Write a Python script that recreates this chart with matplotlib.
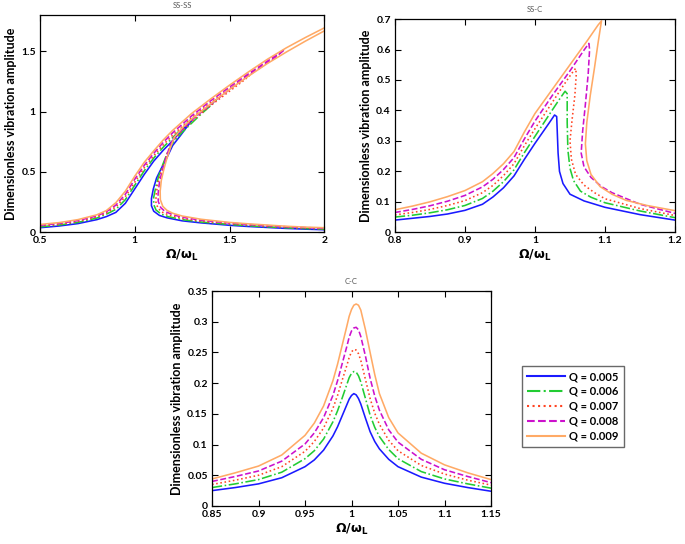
import matplotlib
matplotlib.use("Agg")
import matplotlib.pyplot as plt
from matplotlib.lines import Line2D

plt.rcParams['font.family'] = ['Lato', 'DejaVu Sans']

# ---------------- data ----------------
labels = ["Q = 0.005", "Q = 0.006", "Q = 0.007", "Q = 0.008", "Q = 0.009"]
colors = ["#1a1aff", "#22cc33", "#ff4422", "#cc11cc", "#ffaa66"]
styles = ["-", "-.", ":", "--", "-"]

# SS-SS (paths: lower-left -> upper branch -> middle branch -> lower-right)
ss_x = [
    [0.5, 0.6, 0.7, 0.8, 0.85, 0.9, 0.95, 1.0, 1.05, 1.1, 1.15, 1.2, 1.25, 1.29,
     1.3, 1.29, 1.24, 1.2, 1.17, 1.14, 1.115, 1.098, 1.088, 1.088,
     1.1, 1.13, 1.17, 1.25, 1.35, 1.5, 1.6, 1.7, 1.8, 1.9, 2.0],
    [0.5, 0.6, 0.7, 0.8, 0.85, 0.9, 0.95, 1.0, 1.05, 1.1, 1.15, 1.2, 1.25, 1.3, 1.35, 1.4, 1.43,
     1.40, 1.35, 1.3, 1.25, 1.2, 1.17, 1.145, 1.125, 1.11, 1.1, 1.1,
     1.112, 1.14, 1.18, 1.25, 1.35, 1.5, 1.6, 1.7, 1.8, 1.9, 2.0],
    [0.5, 0.6, 0.7, 0.8, 0.85, 0.9, 0.95, 1.0, 1.05, 1.1, 1.15, 1.2, 1.3, 1.4, 1.5, 1.6, 1.62,
     1.58, 1.5, 1.4, 1.3, 1.25, 1.2, 1.175, 1.155, 1.135, 1.12, 1.112, 1.112,
     1.125, 1.15, 1.19, 1.25, 1.35, 1.5, 1.6, 1.7, 1.8, 1.9, 2.0],
    [0.5, 0.6, 0.7, 0.8, 0.85, 0.9, 0.95, 1.0, 1.05, 1.1, 1.15, 1.2, 1.3, 1.4, 1.5, 1.6, 1.7, 1.79,
     1.75, 1.7, 1.6, 1.5, 1.4, 1.3, 1.25, 1.2, 1.18, 1.16, 1.143, 1.13, 1.123, 1.124,
     1.137, 1.16, 1.2, 1.25, 1.35, 1.5, 1.6, 1.7, 1.8, 1.9, 2.0],
    [0.5, 0.6, 0.7, 0.8, 0.85, 0.9, 0.95, 1.0, 1.05, 1.1, 1.15, 1.2, 1.3, 1.4, 1.5, 1.6, 1.7, 1.8, 1.9, 2.0, 2.04,
     2.04, 2.0, 1.9, 1.8, 1.7, 1.6, 1.5, 1.4, 1.3, 1.25, 1.21, 1.19, 1.17, 1.153, 1.14, 1.134, 1.135,
     1.148, 1.17, 1.2, 1.25, 1.35, 1.5, 1.6, 1.7, 1.8, 1.9, 2.0],
]
ss_y = [
    [0.038, 0.052, 0.072, 0.105, 0.13, 0.165, 0.24, 0.36, 0.48, 0.59, 0.68, 0.76, 0.85, 0.915,
     0.93, 0.905, 0.80, 0.72, 0.62, 0.53, 0.45, 0.36, 0.28, 0.22,
     0.175, 0.14, 0.12, 0.095, 0.078, 0.058, 0.048, 0.04, 0.032, 0.026, 0.021],
    [0.045, 0.06, 0.082, 0.118, 0.15, 0.19, 0.27, 0.39, 0.51, 0.615, 0.705, 0.785, 0.865, 0.94, 1.0, 1.06, 1.10,
     1.05, 0.98, 0.905, 0.83, 0.74, 0.65, 0.55, 0.46, 0.37, 0.29, 0.23,
     0.185, 0.15, 0.128, 0.105, 0.085, 0.065, 0.054, 0.045, 0.037, 0.031, 0.026],
    [0.052, 0.066, 0.09, 0.127, 0.16, 0.21, 0.295, 0.415, 0.535, 0.635, 0.725, 0.805, 0.95, 1.075, 1.19, 1.30, 1.32,
     1.265, 1.17, 1.05, 0.92, 0.845, 0.76, 0.67, 0.575, 0.48, 0.39, 0.305, 0.24,
     0.195, 0.162, 0.138, 0.115, 0.092, 0.071, 0.06, 0.05, 0.042, 0.035, 0.03],
    [0.058, 0.073, 0.097, 0.136, 0.17, 0.225, 0.315, 0.44, 0.555, 0.655, 0.745, 0.825, 0.965, 1.09, 1.205, 1.315, 1.42, 1.515,
     1.46, 1.405, 1.30, 1.185, 1.06, 0.93, 0.855, 0.775, 0.69, 0.595, 0.50, 0.41, 0.32, 0.255,
     0.205, 0.172, 0.147, 0.125, 0.10, 0.077, 0.065, 0.055, 0.046, 0.039, 0.034],
    [0.065, 0.08, 0.105, 0.145, 0.18, 0.245, 0.34, 0.465, 0.58, 0.675, 0.765, 0.845, 0.985, 1.105, 1.22, 1.33, 1.435, 1.53, 1.615, 1.695, 1.725,
     1.715, 1.67, 1.585, 1.495, 1.40, 1.295, 1.185, 1.065, 0.94, 0.865, 0.79, 0.71, 0.615, 0.52, 0.43, 0.34, 0.27,
     0.215, 0.182, 0.158, 0.135, 0.108, 0.082, 0.07, 0.06, 0.05, 0.043, 0.038],
]

# SS-C (paths: rising branch -> peak -> drop / right branch)
sc_x = [
    [0.8, 0.825, 0.85, 0.875, 0.9, 0.925, 0.94, 0.955, 0.97, 0.985, 1.0, 1.01, 1.02, 1.028,
     1.031, 1.032, 1.033, 1.035, 1.04, 1.05, 1.07, 1.1, 1.15, 1.2],
    [0.8, 0.825, 0.85, 0.875, 0.9, 0.925, 0.94, 0.955, 0.97, 0.985, 1.0, 1.02, 1.035, 1.043,
     1.046, 1.046, 1.047, 1.05, 1.055, 1.065, 1.08, 1.1, 1.15, 1.2],
    [0.8, 0.825, 0.85, 0.875, 0.9, 0.925, 0.94, 0.955, 0.97, 0.985, 1.0, 1.02, 1.04, 1.052, 1.058,
     1.059, 1.057, 1.053, 1.05, 1.052, 1.058, 1.07, 1.085, 1.1, 1.15, 1.2],
    [0.8, 0.825, 0.85, 0.875, 0.9, 0.925, 0.94, 0.955, 0.97, 0.985, 1.0, 1.025, 1.05, 1.07, 1.077,
     1.078, 1.076, 1.072, 1.068, 1.066, 1.07, 1.08, 1.095, 1.11, 1.15, 1.2],
    [0.8, 0.825, 0.85, 0.875, 0.9, 0.925, 0.94, 0.955, 0.97, 0.985, 1.0, 1.025, 1.05, 1.075, 1.09, 1.095,
     1.09, 1.085, 1.079, 1.074, 1.072, 1.074, 1.08, 1.093, 1.11, 1.13, 1.16, 1.2],
]
sc_y = [
    [0.040, 0.046, 0.052, 0.060, 0.072, 0.092, 0.116, 0.146, 0.185, 0.240, 0.292, 0.325, 0.358, 0.385,
     0.38, 0.32, 0.26, 0.20, 0.16, 0.125, 0.103, 0.082, 0.058, 0.040],
    [0.050, 0.056, 0.064, 0.074, 0.088, 0.111, 0.135, 0.166, 0.205, 0.262, 0.315, 0.385, 0.437, 0.463,
     0.455, 0.36, 0.27, 0.21, 0.17, 0.135, 0.115, 0.097, 0.07, 0.048],
    [0.057, 0.065, 0.075, 0.088, 0.104, 0.130, 0.154, 0.186, 0.225, 0.285, 0.340, 0.41, 0.48, 0.52, 0.538,
     0.52, 0.45, 0.37, 0.30, 0.24, 0.19, 0.155, 0.13, 0.11, 0.078, 0.055],
    [0.065, 0.075, 0.087, 0.102, 0.121, 0.149, 0.174, 0.206, 0.245, 0.307, 0.365, 0.45, 0.53, 0.598, 0.62,
     0.60, 0.52, 0.42, 0.33, 0.26, 0.215, 0.18, 0.15, 0.13, 0.092, 0.062],
    [0.074, 0.086, 0.100, 0.117, 0.137, 0.166, 0.193, 0.225, 0.265, 0.330, 0.390, 0.47, 0.55, 0.63, 0.68, 0.694,
     0.62, 0.54, 0.45, 0.36, 0.29, 0.235, 0.19, 0.15, 0.125, 0.105, 0.088, 0.071],
]

# C-C
cc_x = [0.85, 0.875, 0.9, 0.925, 0.95, 0.96, 0.97, 0.98, 0.985, 0.99, 0.995, 0.9975, 1.0, 1.0025,
        1.005, 1.0075, 1.01, 1.015, 1.02, 1.025, 1.03, 1.04, 1.05, 1.075, 1.1, 1.125, 1.15]
cc_y = [
    [0.025, 0.030, 0.036, 0.046, 0.064, 0.075, 0.091, 0.114, 0.129, 0.147, 0.165, 0.174, 0.180, 0.183,
     0.181, 0.175, 0.166, 0.143, 0.121, 0.105, 0.093, 0.076, 0.064, 0.047, 0.037, 0.030, 0.024],
    [0.030, 0.036, 0.043, 0.055, 0.077, 0.090, 0.109, 0.137, 0.155, 0.176, 0.198, 0.209, 0.216, 0.219,
     0.218, 0.212, 0.202, 0.175, 0.148, 0.128, 0.113, 0.092, 0.077, 0.056, 0.044, 0.036, 0.029],
    [0.035, 0.042, 0.050, 0.064, 0.089, 0.105, 0.127, 0.159, 0.180, 0.205, 0.229, 0.242, 0.251, 0.255,
     0.254, 0.248, 0.237, 0.206, 0.175, 0.151, 0.133, 0.107, 0.090, 0.066, 0.052, 0.042, 0.034],
    [0.040, 0.048, 0.057, 0.073, 0.101, 0.119, 0.144, 0.180, 0.204, 0.232, 0.260, 0.275, 0.285, 0.290,
     0.291, 0.287, 0.276, 0.244, 0.208, 0.179, 0.156, 0.124, 0.104, 0.076, 0.059, 0.048, 0.038],
    [0.044, 0.054, 0.065, 0.083, 0.115, 0.135, 0.163, 0.204, 0.231, 0.262, 0.293, 0.309, 0.320, 0.327,
     0.329, 0.327, 0.319, 0.287, 0.250, 0.214, 0.183, 0.144, 0.119, 0.086, 0.067, 0.054, 0.043],
]

ss_xt = [0.5, 1, 1.5, 2]; ss_xl = ["0.5", "1", "1.5", "2"]
ss_yt = [0, 0.5, 1, 1.5]; ss_yl = ["0", "0.5", "1", "1.5"]
sc_xt = [0.8, 0.9, 1.0, 1.1, 1.2]; sc_xl = ["0.8", "0.9", "1", "1.1", "1.2"]
sc_yt = [0, 0.1, 0.2, 0.3, 0.4, 0.5, 0.6, 0.7]; sc_yl = ["0", "0.1", "0.2", "0.3", "0.4", "0.5", "0.6", "0.7"]
cc_xt = [0.85, 0.9, 0.95, 1.0, 1.05, 1.1, 1.15]; cc_xl = ["0.85", "0.9", "0.95", "1", "1.05", "1.1", "1.15"]
cc_yt = [0, 0.05, 0.1, 0.15, 0.2, 0.25, 0.3, 0.35]; cc_yl = ["0", "0.05", "0.1", "0.15", "0.2", "0.25", "0.3", "0.35"]

# ---------------- figure ----------------
fig = plt.figure(figsize=(6.85, 5.44), dpi=100)
ax1 = fig.add_axes([0.0584, 0.573, 0.415, 0.399])
ax2 = fig.add_axes([0.5766, 0.573, 0.4088, 0.392])
ax3 = fig.add_axes([0.3095, 0.0699, 0.4073, 0.395])

def style(ax, title, xt, xl, yt, yl, xlim, ylim):
    ax.set_xlim(*xlim); ax.set_ylim(*ylim)
    ax.set_xticks(xt); ax.set_xticklabels(xl)
    ax.set_yticks(yt); ax.set_yticklabels(yl)
    ax.tick_params(direction='in', top=True, right=True, length=4, width=0.8,
                   labelsize=7.5, pad=3)
    for t in ax.get_xticklabels() + ax.get_yticklabels():
        t.set_fontweight('bold')
    for s in ax.spines.values():
        s.set_linewidth(0.9)
    ax.set_title(title, fontsize=5.5, color='#555555', pad=5)
    ax.set_xlabel(r'$\mathbf{\Omega/\omega_L}$', fontsize=9, labelpad=2)
    ax.set_ylabel('Dimensionless vibration amplitude', fontsize=9, fontweight='bold', labelpad=3)

for i in range(5):
    ax1.plot(ss_x[i], ss_y[i], color=colors[i], ls=styles[i], lw=1.15)
    ax2.plot(sc_x[i], sc_y[i], color=colors[i], ls=styles[i], lw=1.15)
    ax3.plot(cc_x, cc_y[i], color=colors[i], ls=styles[i], lw=1.15)

style(ax1, 'SS-SS', ss_xt, ss_xl, ss_yt, ss_yl, (0.5, 2), (0, 1.8))
style(ax2, 'SS-C', sc_xt, sc_xl, sc_yt, sc_yl, (0.8, 1.2), (0, 0.7))
style(ax3, 'C-C', cc_xt, cc_xl, cc_yt, cc_yl, (0.85, 1.15), (0, 0.35))

handles = [Line2D([], [], color=colors[i], ls=styles[i], lw=1.5) for i in range(5)]
leg = fig.legend(handles, labels, loc='upper left', bbox_to_anchor=(516/685, 1-360/544),
                 frameon=True, fancybox=False, handlelength=3.4, handletextpad=0.4,
                 labelspacing=0.35, borderpad=0.5, prop={'weight': 'bold', 'size': 8})
leg.get_frame().set_edgecolor('#444444')
leg.get_frame().set_linewidth(1.0)

fig.savefig('out.png', dpi=100)
